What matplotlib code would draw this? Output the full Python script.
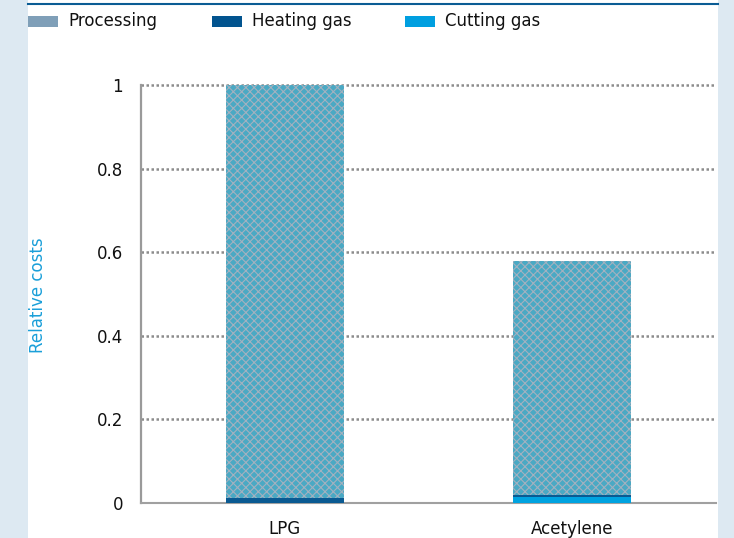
import matplotlib.pyplot as plt
from matplotlib.patches import Rectangle
from matplotlib.lines import Line2D

plt.rcParams['font.family'] = ['Liberation Sans Narrow', 'DejaVu Sans Condensed', 'DejaVu Sans']
plt.rcParams['hatch.linewidth'] = 0.8

categories = ['LPG', 'Acetylene']
cutting_gas = [0.0, 0.014]
heating_gas = [0.012, 0.006]
processing = [0.988, 0.56]
yticks = [0, 0.2, 0.4, 0.6, 0.8, 1]
ytick_labels = ['0', '0.2', '0.4', '0.6', '0.8', '1']

W, H = 734, 538
fig = plt.figure(figsize=(W / 100, H / 100), dpi=100, facecolor='#dde9f2')

# white panel + top rule
fig.patches.append(Rectangle((28 / W, 0), 690 / W, 1, transform=fig.transFigure,
                             facecolor='white', edgecolor='none', zorder=-10))
fig.lines.append(Line2D([28 / W, 718 / W], [1 - 4 / H, 1 - 4 / H], transform=fig.transFigure,
                        color='#0a5c94', linewidth=1.5))

# legend drawn by hand
leg = [('Processing', '#7f9fb8', 28), ('Heating gas', '#02548f', 212), ('Cutting gas', '#009fe0', 405)]
for name, col, x0 in leg:
    fig.patches.append(Rectangle((x0 / W, 1 - 27 / H), 30 / W, 11 / H, transform=fig.transFigure,
                                 facecolor=col, edgecolor='none'))
    fig.text((x0 + 40) / W, 1 - 21 / H, name, fontsize=12, va='center', ha='left', color='#111111')

ax = fig.add_axes([141 / W, 35 / H, 575 / W, 418 / H])
x = range(len(categories))
bw = 0.41
ax.bar(x, cutting_gas, width=bw, color='#00a3e0', linewidth=0, zorder=3)
ax.bar(x, heating_gas, width=bw, bottom=cutting_gas, color='#0a5a92', linewidth=0, zorder=3)
base = [c + h for c, h in zip(cutting_gas, heating_gas)]
ax.bar(x, processing, width=bw, bottom=base, facecolor='#4aa9c4', edgecolor='#a3b1bf',
       hatch='xxxx', linewidth=0, zorder=3)

ax.set_xlim(-0.5, 1.5)
ax.set_ylim(0, 1)
ax.set_yticks(yticks)
ax.set_yticklabels(ytick_labels)
ax.set_xticks(list(x))
ax.set_xticklabels(categories)
ax.tick_params(axis='both', length=0, labelsize=12, colors='#111111')
ax.tick_params(axis='y', pad=13)
ax.tick_params(axis='x', pad=12)
for y in yticks[1:]:
    ax.axhline(y, color='#8c8c8c', linewidth=1.8, linestyle=(0, (1, 1)), zorder=1, clip_on=False)
for s in ['top', 'right']:
    ax.spines[s].set_visible(False)
ax.spines['left'].set_color('#9a9a9a')
ax.spines['left'].set_linewidth(1.6)
ax.spines['left'].set_linestyle((0, (1, 1)))
ax.spines['bottom'].set_color('#a0a0a0')
ax.spines['bottom'].set_linewidth(1.5)

fig.text(38 / W, 1 - 295 / H, 'Relative costs', rotation=90, color='#1a9fd9', fontsize=12,
         ha='center', va='center')

fig.savefig('out.png', dpi=100, facecolor=fig.get_facecolor())
